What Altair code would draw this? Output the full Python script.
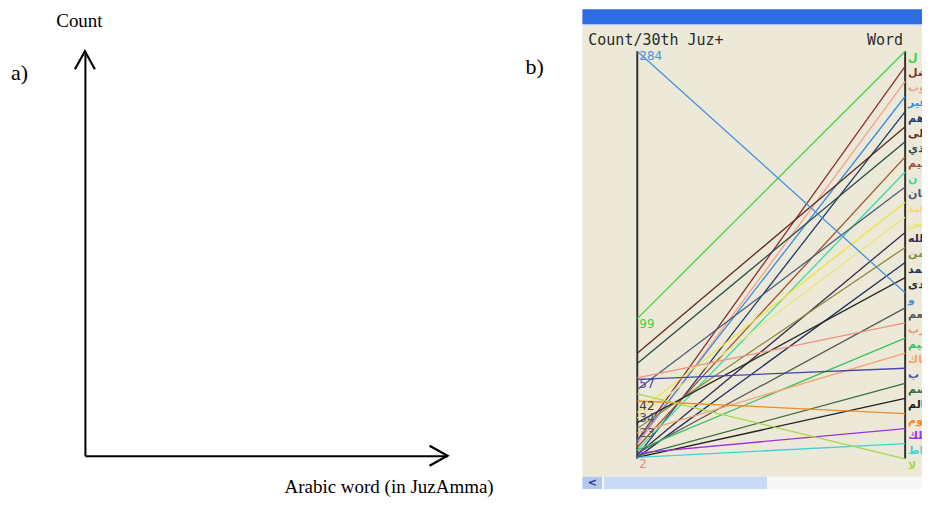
import altair as alt
import pandas as pd

# ---------------- data (panel b: parallel coordinates) ----------------
words = ["ل", "ضل", "ضوب", "غير", "هم", "على", "الذي", "تقيم", "ن", "عان",
         "عبد", "نس", "الله", "حمن", "حمد", "هدى", "و", "أنعم", "رب", "حيم",
         "ياك", "ب", "اسم", "عالم", "يوم", "ملك", "راط", "لا"]
word_counts = [99, 15, 12, 14, 4, 75, 68, 10, 8, 50,
               34, 30, 5, 23, 3, 27, 284, 6, 58, 8,
               20, 57, 4, 3, 42, 6, 3, 47]
word_colors = ["#3CD23C", "#8B3030", "#F4A08C", "#3A8AE0", "#1E3C6E", "#5C2A1C",
               "#2E4A4A", "#A0522D", "#3CD8A8", "#4A5A78", "#F2E43C", "#E8E878",
               "#3A2A4E", "#8C8A3C", "#1C2C5E", "#2C2C2C", "#4A90E2", "#5A5A5A",
               "#F0907E", "#3CC060", "#F4A46C", "#4646B4", "#3C6E3C", "#1E1E1E",
               "#F08A2C", "#9A30E8", "#40D4D8", "#A8D848"]
count_ticks = [284, 99, 57, 42, 34, 23, 2]
count_tick_colors = ["#4A90E2", "#3CD23C", "#4646B4", "#404040", "#505070", "#505070", "#F08080"]

CMIN, CMAX = 2, 284
n = len(words)

line_rows = []
for i, (w, c) in enumerate(zip(words, word_counts)):
    line_rows.append({"word": w, "axis": 0, "v": (c - CMIN) / (CMAX - CMIN)})
    line_rows.append({"word": w, "axis": 1, "v": 1 - i / (n - 1)})
lines_df = pd.DataFrame(line_rows)

word_lab_df = pd.DataFrame({"word": words, "axis": 1,
                            "v": [1 - i / (n - 1) for i in range(n)]})
count_lab_df = pd.DataFrame({"label": [str(c) for c in count_ticks], "axis": 0,
                             "v": [(c - CMIN) / (CMAX - CMIN) for c in count_ticks],
                             "col": count_tick_colors})
axes_df = pd.DataFrame({"axis": [0, 1], "v0": [0, 0], "v1": [1, 1]})

# window decoration of the screenshot (normalised units of the panel scales)
XMIN, XMAX = -0.205, 1.063
YMIN = -0.044
decor_df = pd.DataFrame([
    {"x": XMIN, "x2": XMAX, "y": YMIN, "y2": 1.061, "fill": "#ECE9D8"},
    {"x": XMIN, "x2": XMAX, "y": 1.061, "y2": 1.066, "fill": "#D6E2F6"},
    {"x": XMIN, "x2": XMAX, "y": 1.066, "y2": 1.103, "fill": "#2E6CE2"},
    {"x": XMIN, "x2": -0.131, "y": -0.074, "y2": YMIN, "fill": "#B4C8EE"},
    {"x": -0.125, "x2": 0.485, "y": -0.074, "y2": YMIN, "fill": "#C9D9F6"},
    {"x": 0.485, "x2": XMAX, "y": -0.074, "y2": YMIN, "fill": "#F7F7F7"},
])
btn_df = pd.DataFrame({"x": [-0.168], "y": [-0.059], "t": ["<"]})

xs = alt.Scale(domain=[XMIN, XMAX], nice=False, zero=False)
ys = alt.Scale(domain=[YMIN, 1], nice=False, zero=False)

decor = alt.Chart(decor_df).mark_rect().encode(
    x=alt.X("x:Q", scale=xs, axis=None), x2="x2:Q",
    y=alt.Y("y:Q", scale=ys, axis=None), y2="y2:Q",
    color=alt.Color("fill:N", scale=None))

btn = alt.Chart(btn_df).mark_text(fontSize=11, fontWeight="bold", color="#1A3A8A",
                                  font="DejaVu Sans").encode(
    x=alt.X("x:Q", scale=xs, axis=None), y=alt.Y("y:Q", scale=ys, axis=None), text="t:N")

axes_rules = alt.Chart(axes_df).mark_rule(color="#333333", strokeWidth=2).encode(
    x=alt.X("axis:Q", scale=xs, axis=None),
    y=alt.Y("v0:Q", scale=ys, axis=None), y2="v1:Q")

lines = alt.Chart(lines_df).mark_line(strokeWidth=1.3).encode(
    x=alt.X("axis:Q", scale=xs, axis=None),
    y=alt.Y("v:Q", scale=ys, axis=None),
    color=alt.Color("word:N", scale=alt.Scale(domain=words, range=word_colors), legend=None),
    detail="word:N")

word_labels = alt.Chart(word_lab_df).mark_text(
    align="left", baseline="top", dx=3, dy=1, fontSize=11, fontWeight="bold",
    font="DejaVu Sans", clip=True).encode(
    x=alt.X("axis:Q", scale=xs, axis=None),
    y=alt.Y("v:Q", scale=ys, axis=None),
    text="word:N",
    color=alt.Color("word:N", scale=alt.Scale(domain=words, range=word_colors), legend=None))

count_labels = alt.Chart(count_lab_df).mark_text(
    align="left", baseline="top", dx=2, dy=0, fontSize=12, font="DejaVu Sans").encode(
    x=alt.X("axis:Q", scale=xs, axis=None),
    y=alt.Y("v:Q", scale=ys, axis=None),
    text="label:N",
    color=alt.Color("col:N", scale=None))

head_left = alt.Chart(pd.DataFrame({"axis": [0], "v": [1], "t": ["Count/30th Juz+"]})).mark_text(
    align="left", baseline="bottom", dx=-49, dy=-3, fontSize=15, font="DejaVu Sans Mono",
    color="#2A2A2A").encode(
    x=alt.X("axis:Q", scale=xs, axis=None), y=alt.Y("v:Q", scale=ys, axis=None), text="t:N")
head_right = alt.Chart(pd.DataFrame({"axis": [1], "v": [1], "t": ["Word"]})).mark_text(
    align="right", baseline="bottom", dx=-2, dy=-3, fontSize=15, font="DejaVu Sans Mono",
    color="#2A2A2A").encode(
    x=alt.X("axis:Q", scale=xs, axis=None), y=alt.Y("v:Q", scale=ys, axis=None), text="t:N")

right = alt.layer(decor, btn, axes_rules, lines, count_labels, word_labels,
                  head_left, head_right).properties(width=340, height=426)

# ---------------- panel a: empty schematic axes ----------------
RIGHT_ARROW = "M -1.8 -1 L 0 0 L -1.8 1"
UP_ARROW = "M -1 1.8 L 0 0 L 1 1.8"
arrow_df = pd.DataFrame({"x": [1, 0], "y": [0, 1], "shape": [RIGHT_ARROW, UP_ARROW]})
tag_df = pd.DataFrame({"x": [-0.204, 1.215], "y": [0.945, 0.96], "t": ["a)", "b)"]})

lxs = alt.Scale(domain=[0, 1], nice=False, zero=False)
lys = alt.Scale(domain=[0, 1], nice=False, zero=False)
x_axis = alt.Axis(title="Arabic word (in JuzAmma)", labels=False, ticks=False, grid=False,
                  domainColor="black", domainWidth=2, titleFont="Liberation Serif",
                  titleFontSize=19, titleFontWeight="normal", titleColor="black",
                  titleX=304, titleY=41, titleAlign="center", titleBaseline="bottom")
y_axis = alt.Axis(title="Count", labels=False, ticks=False, grid=False,
                  domainColor="black", domainWidth=2, titleFont="Liberation Serif",
                  titleFontSize=19, titleFontWeight="normal", titleColor="black",
                  titleAngle=0, titleX=-6, titleY=-31, titleAlign="center",
                  titleBaseline="middle")

arrows = alt.Chart(arrow_df).mark_point(filled=False, size=400, strokeWidth=2.2,
                                        color="black", opacity=1).encode(
    x=alt.X("x:Q", scale=lxs, axis=x_axis),
    y=alt.Y("y:Q", scale=lys, axis=y_axis),
    shape=alt.Shape("shape:N", scale=None))

tags = alt.Chart(tag_df).mark_text(align="left", baseline="middle", fontSize=22,
                                   font="Liberation Serif", color="black").encode(
    x=alt.X("x:Q", scale=lxs, axis=x_axis),
    y=alt.Y("y:Q", scale=lys, axis=y_axis),
    text="t:N")

left = alt.layer(arrows, tags).properties(width=363, height=405)

chart = alt.hconcat(left, right, spacing=135, bounds="flush").configure(
    padding={"left": 2, "top": 0, "right": 0, "bottom": 0}, background="white"
).configure_view(stroke=None)

chart.save("out.html", embed_options={"renderer": "svg", "actions": False})
